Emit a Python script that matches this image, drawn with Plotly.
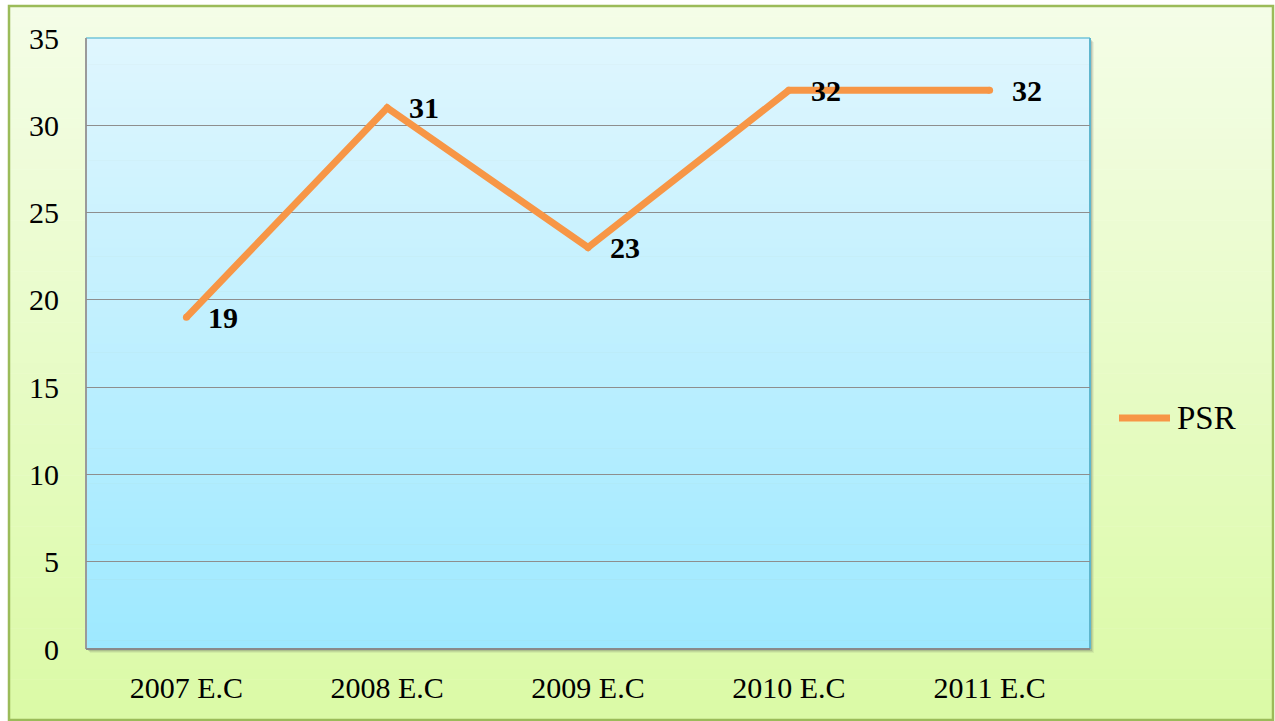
import plotly.graph_objects as go

categories = ["2007 E.C", "2008 E.C", "2009 E.C", "2010 E.C", "2011 E.C"]
psr_values = [19, 31, 23, 32, 32]
series_name = "PSR"
y_ticks = [0, 5, 10, 15, 20, 25, 30, 35]

W, H = 1275, 721
L, R, T, B = 86, 1090, 38, 649


def px(x):
    return (x - L) / (R - L)


def py(y):
    return (B - y) / (B - T)


def lerp(c1, c2, t):
    return "rgb(%d,%d,%d)" % tuple(round(a + (b - a) * t) for a, b in zip(c1, c2))


shapes = []
# outer background gradient
ox0, oy0, ox1, oy1 = 9, 6, 1273, 720
n = 70
top_c, bot_c = (244, 253, 231), (219, 250, 166)
for i in range(n):
    ya = oy0 + (oy1 - oy0) * i / n
    yb = oy0 + (oy1 - oy0) * (i + 1) / n + 0.6
    shapes.append(dict(type="rect", xref="paper", yref="paper", layer="below",
                       x0=px(ox0), x1=px(ox1), y0=py(ya), y1=py(min(yb, oy1)),
                       fillcolor=lerp(top_c, bot_c, i / (n - 1)), line=dict(width=0)))
# plot area shadow
for k, a in [(4, 0.08), (3, 0.12), (2, 0.18)]:
    shapes.append(dict(type="rect", xref="paper", yref="paper", layer="below",
                       x0=px(L + k), x1=px(R + k), y0=py(B + k), y1=py(T + k),
                       fillcolor="rgba(80,80,80,%.2f)" % a, line=dict(width=0)))
# plot area gradient
p_top, p_bot = (223, 246, 254), (158, 233, 255)
for i in range(n):
    ya = T + (B - T) * i / n
    yb = T + (B - T) * (i + 1) / n + 0.6
    shapes.append(dict(type="rect", xref="paper", yref="paper", layer="below",
                       x0=0, x1=1, y0=py(ya), y1=py(min(yb, B)),
                       fillcolor=lerp(p_top, p_bot, i / (n - 1)), line=dict(width=0)))
# plot area borders
shapes += [
    dict(type="line", xref="paper", yref="paper", x0=0, x1=1, y0=1, y1=1,
         line=dict(color="#72C4DA", width=1.5), layer="below"),
    dict(type="line", xref="paper", yref="paper", x0=1, x1=1, y0=0, y1=1,
         line=dict(color="#5EB6CE", width=2), layer="below"),
    dict(type="line", xref="paper", yref="paper", x0=0, x1=0, y0=0, y1=1,
         line=dict(color="#9A9A9A", width=2), layer="below"),
    dict(type="line", xref="paper", yref="paper", x0=0, x1=1, y0=0, y1=0,
         line=dict(color="#8A8A8A", width=2), layer="below"),
]
# outer border
shapes.append(dict(type="rect", xref="paper", yref="paper", layer="above",
                   x0=px(ox0), x1=px(ox1), y0=py(oy1), y1=py(oy0),
                   line=dict(color="#9BBB59", width=2.5), fillcolor="rgba(0,0,0,0)"))
# legend line sample
shapes.append(dict(type="line", xref="paper", yref="paper", layer="above",
                   x0=px(1119), x1=px(1170), y0=py(418), y1=py(418),
                   line=dict(color="#F79646", width=7)))

fig = go.Figure()
fig.add_trace(go.Scatter(
    x=categories, y=psr_values, name=series_name, mode="lines+markers",
    line=dict(color="#F79646", width=7),
    marker=dict(color="#F79646", size=7, line=dict(width=0)),
    showlegend=False, hoverinfo="x+y",
))

annotations = []
for c, v in zip(categories, psr_values):
    annotations.append(dict(x=c, y=v, xref="x", yref="y", text="<b>%d</b>" % v,
                            showarrow=False, xanchor="left", yanchor="middle",
                            xshift=20, yshift=0,
                            font=dict(family="Liberation Serif", size=30, color="black")))
annotations.append(dict(x=px(1175), y=py(418), xref="paper", yref="paper",
                        text=series_name, showarrow=False, xanchor="left",
                        yanchor="middle",
                        font=dict(family="Liberation Serif", size=33, color="black")))

fig.update_layout(
    width=W, height=H,
    margin=dict(l=L, r=W - R, t=T, b=H - B, pad=0),
    paper_bgcolor="white",
    plot_bgcolor="rgba(0,0,0,0)",
    shapes=shapes,
    annotations=annotations,
    font=dict(family="Liberation Serif", size=30, color="black"),
    xaxis=dict(type="category", range=[-0.5, 4.5], showgrid=False, zeroline=False,
               showline=False, ticks="", ticklabelstandoff=18,
               tickfont=dict(family="Liberation Serif", size=30, color="black")),
    yaxis=dict(range=[0, 35], tickvals=y_ticks, showgrid=True, gridcolor="#8E8E8E",
               gridwidth=1.3, zeroline=False, showline=False, ticks="",
               ticklabelstandoff=26,
               tickfont=dict(family="Liberation Serif", size=30, color="black")),
)

fig.write_html("out.html", config={"displayModeBar": False},
               post_script="document.body.style.margin='0';")
